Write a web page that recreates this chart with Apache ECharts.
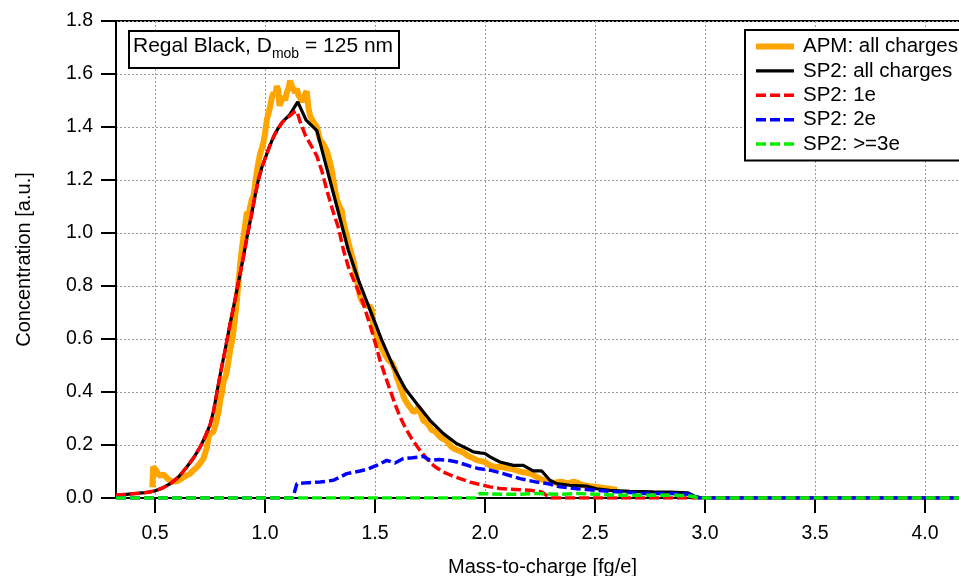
<!DOCTYPE html>
<html>
<head>
<meta charset="utf-8">
<script src="https://cdn.jsdelivr.net/npm/echarts@6/dist/echarts.min.js"></script>
<style>html,body{margin:0;padding:0;background:#fff}#c{width:959px;height:576px}</style>
</head>
<body>
<div id="c"></div>
<script>
const xTicks = [0.5, 1.0, 1.5, 2.0, 2.5, 3.0, 3.5, 4.0];
const legendNames = ['APM: all charges', 'SP2: all charges', 'SP2: 1e', 'SP2: 2e', 'SP2: >=3e'];

const apmX = [0.488,0.492,0.500,0.509,0.518,0.527,0.540,0.552,0.565,0.580,0.600,0.615,0.630,0.645,0.660,0.675,0.691,0.706,0.721,0.736,0.745,0.755,0.766,0.775,0.782,0.790,0.797,0.805,0.812,0.820,0.827,0.835,0.842,0.850,0.857,0.865,0.872,0.880,0.887,0.895,0.903,0.910,0.918,0.925,0.933,0.941,0.948,0.956,0.963,0.971,0.978,0.986,0.993,1.001,1.009,1.016,1.024,1.031,1.039,1.047,1.054,1.060,1.066,1.075,1.084,1.092,1.099,1.107,1.114,1.122,1.129,1.137,1.145,1.152,1.160,1.168,1.175,1.183,1.190,1.198,1.206,1.213,1.220,1.228,1.236,1.244,1.251,1.259,1.266,1.273,1.281,1.288,1.296,1.304,1.311,1.319,1.326,1.334,1.341,1.349,1.357,1.364,1.372,1.379,1.387,1.395,1.402,1.410,1.417,1.425,1.432,1.440,1.447,1.455,1.463,1.470,1.478,1.485,1.493,1.500,1.508,1.515,1.523,1.531,1.538,1.546,1.554,1.561,1.569,1.577,1.584,1.592,1.599,1.607,1.614,1.622,1.629,1.637,1.645,1.652,1.660,1.667,1.675,1.682,1.690,1.697,1.705,1.712,1.720,1.728,1.735,1.743,1.750,1.758,1.766,1.773,1.781,1.788,1.796,1.803,1.811,1.818,1.826,1.834,1.841,1.849,1.857,1.864,1.872,1.887,1.902,1.917,1.932,1.947,1.962,1.977,2.000,2.023,2.038,2.053,2.068,2.083,2.099,2.114,2.129,2.144,2.159,2.174,2.190,2.212,2.235,2.258,2.273,2.296,2.311,2.326,2.341,2.356,2.371,2.386,2.402,2.417,2.432,2.447,2.462,2.477,2.492,2.507,2.538,2.568,2.600];
const apmY = [0.040,0.118,0.110,0.100,0.085,0.080,0.088,0.078,0.068,0.062,0.063,0.070,0.078,0.085,0.092,0.105,0.117,0.132,0.150,0.190,0.235,0.245,0.250,0.275,0.300,0.330,0.370,0.400,0.440,0.455,0.480,0.520,0.560,0.590,0.630,0.690,0.740,0.820,0.880,0.940,0.990,1.030,1.080,1.070,1.100,1.130,1.140,1.190,1.230,1.270,1.300,1.320,1.340,1.380,1.430,1.450,1.480,1.510,1.530,1.520,1.555,1.540,1.480,1.500,1.515,1.500,1.530,1.545,1.575,1.555,1.550,1.530,1.545,1.520,1.510,1.495,1.500,1.525,1.535,1.470,1.440,1.430,1.420,1.410,1.400,1.370,1.350,1.345,1.335,1.330,1.310,1.290,1.265,1.235,1.200,1.160,1.130,1.110,1.095,1.085,1.040,1.015,0.990,0.965,0.940,0.915,0.895,0.860,0.830,0.790,0.760,0.745,0.735,0.728,0.725,0.718,0.722,0.712,0.650,0.625,0.610,0.595,0.578,0.565,0.555,0.540,0.530,0.520,0.515,0.510,0.505,0.480,0.455,0.440,0.420,0.405,0.385,0.370,0.360,0.350,0.342,0.335,0.325,0.318,0.330,0.345,0.342,0.310,0.292,0.288,0.284,0.280,0.268,0.256,0.254,0.252,0.248,0.238,0.230,0.224,0.222,0.220,0.216,0.205,0.198,0.192,0.188,0.184,0.180,0.177,0.172,0.162,0.155,0.150,0.143,0.140,0.136,0.123,0.119,0.117,0.118,0.116,0.113,0.110,0.108,0.104,0.100,0.097,0.095,0.091,0.079,0.070,0.066,0.060,0.057,0.059,0.061,0.060,0.056,0.057,0.062,0.059,0.052,0.048,0.046,0.044,0.043,0.042,0.038,0.035,0.030];

const allX = [0.323,0.360,0.400,0.441,0.470,0.501,0.535,0.570,0.608,0.645,0.676,0.706,0.730,0.751,0.767,0.782,0.800,0.819,0.842,0.862,0.882,0.902,0.921,0.940,0.955,0.970,0.985,1.001,1.020,1.039,1.058,1.077,1.095,1.114,1.149,1.187,1.236,1.311,1.379,1.425,1.478,1.531,1.584,1.637,1.690,1.750,1.811,1.872,1.917,1.947,1.977,2.000,2.023,2.068,2.129,2.174,2.219,2.258,2.295,2.326,2.386,2.462,2.507,2.568,2.659,2.764,2.840,2.923,2.961,3.000,4.200];
const allY = [0.010,0.013,0.016,0.019,0.022,0.027,0.038,0.054,0.080,0.117,0.152,0.193,0.235,0.277,0.330,0.400,0.480,0.558,0.659,0.740,0.825,0.910,0.995,1.074,1.140,1.200,1.245,1.282,1.325,1.363,1.392,1.416,1.432,1.448,1.495,1.426,1.386,1.150,0.935,0.822,0.709,0.596,0.495,0.413,0.356,0.293,0.243,0.205,0.187,0.174,0.170,0.168,0.155,0.136,0.123,0.123,0.102,0.102,0.067,0.054,0.048,0.045,0.035,0.029,0.025,0.023,0.022,0.019,0.003,0.000,0.000];

const e1X = [0.323,0.360,0.400,0.441,0.470,0.501,0.535,0.570,0.608,0.645,0.676,0.706,0.730,0.751,0.767,0.782,0.800,0.819,0.842,0.862,0.882,0.902,0.921,0.940,0.955,0.970,0.985,1.001,1.020,1.039,1.058,1.077,1.095,1.114,1.130,1.145,1.160,1.183,1.210,1.236,1.260,1.281,1.310,1.334,1.357,1.380,1.402,1.425,1.447,1.466,1.485,1.504,1.523,1.546,1.569,1.591,1.614,1.640,1.667,1.700,1.735,1.770,1.811,1.850,1.887,1.932,1.962,2.023,2.068,2.114,2.160,2.205,2.258,2.280,2.300,4.200];
const e1Y = [0.010,0.013,0.016,0.019,0.022,0.027,0.038,0.054,0.080,0.117,0.152,0.193,0.235,0.277,0.330,0.400,0.480,0.558,0.659,0.740,0.825,0.910,0.995,1.074,1.140,1.200,1.245,1.282,1.325,1.363,1.392,1.416,1.432,1.442,1.455,1.460,1.420,1.370,1.330,1.290,1.230,1.162,1.080,1.020,0.935,0.870,0.825,0.780,0.734,0.683,0.633,0.577,0.520,0.462,0.407,0.355,0.306,0.262,0.224,0.185,0.149,0.120,0.098,0.084,0.073,0.060,0.054,0.042,0.036,0.033,0.031,0.029,0.023,0.010,0.000,0.000];

const e2X = [0.323,1.127,1.145,1.200,1.251,1.311,1.341,1.372,1.432,1.470,1.508,1.554,1.591,1.629,1.670,1.705,1.720,1.750,1.790,1.830,1.872,1.932,1.970,2.023,2.083,2.159,2.235,2.288,2.341,2.417,2.507,2.613,2.719,2.840,2.931,2.976,4.200];
const e2Y = [0.000,0.000,0.054,0.058,0.060,0.067,0.079,0.092,0.102,0.110,0.123,0.142,0.132,0.149,0.152,0.155,0.157,0.142,0.145,0.143,0.136,0.120,0.111,0.105,0.092,0.073,0.060,0.054,0.042,0.035,0.029,0.023,0.017,0.017,0.014,0.000,0.000];

const e3X = [0.323,1.955,1.977,2.083,2.159,2.235,2.341,2.417,2.507,2.613,2.750,2.870,2.950,2.965,4.200];
const e3Y = [0.000,0.000,0.017,0.014,0.014,0.017,0.014,0.017,0.014,0.010,0.010,0.010,0.006,0.000,0.000];

const zip = (xs, ys) => xs.map((x, i) => [x, ys[i]]);
const FF = '"Liberation Sans", Arial, sans-serif';

const chart = echarts.init(document.getElementById('c'));
chart.setOption({
  animation: false,
  backgroundColor: '#fff',
  grid: { left: 116, top: 21, right: -10, bottom: 78, outerBoundsMode: 'none', containLabel: false, show: true, borderColor: '#000', borderWidth: 2, backgroundColor: 'transparent' },
  xAxis: {
    type: 'value', min: 0.323, max: 4.2,
    name: 'Mass-to-charge [fg/e]', nameLocation: 'middle', nameGap: 59,
    nameTextStyle: { fontSize: 20, color: '#000', fontFamily: FF },
    axisLine: { show: true, lineStyle: { color: '#000', width: 2 } },
    axisTick: { show: true, inside: false, length: 15, customValues: xTicks, lineStyle: { color: '#000', width: 2 } },
    axisLabel: { customValues: xTicks, margin: 26, fontSize: 19.5, color: '#000', fontFamily: FF, formatter: v => v.toFixed(1) },
    splitLine: { show: true, lineStyle: { color: '#9a9a9a', type: [2, 2], width: 1 } }
  },
  yAxis: {
    type: 'value', min: 0, max: 1.8, interval: 0.2,
    name: 'Concentration [a.u.]', nameLocation: 'middle', nameGap: 82, nameRotate: 90,
    nameTextStyle: { fontSize: 20, color: '#000', fontFamily: FF },
    axisLine: { show: true, lineStyle: { color: '#000', width: 2 } },
    axisTick: { show: true, inside: false, length: 15, lineStyle: { color: '#000', width: 2 } },
    axisLabel: { margin: 23, fontSize: 19.5, color: '#000', fontFamily: FF, formatter: v => v.toFixed(1) },
    splitLine: { show: true, lineStyle: { color: '#9a9a9a', type: [2, 2], width: 1 } }
  },
  legend: {
    orient: 'vertical', left: 745, top: 30,
    padding: [6, 8, 6, 8], itemGap: 3.4, itemWidth: 38, itemHeight: 14,
    backgroundColor: '#fff', borderColor: '#000', borderWidth: 2, borderRadius: 0,
    textStyle: { fontSize: 20.5, color: '#000', fontFamily: FF, lineHeight: 20, padding: [0, 0, 0, 4] },
    lineStyle: { width: 'inherit' },
    itemStyle: { opacity: 0, color: 'transparent', borderWidth: 0 },
    data: legendNames
  },
  graphic: [
    { type: 'rect', left: 128, top: 30, z: 100, shape: { width: 270, height: 37 }, style: { fill: '#fff', stroke: '#000', lineWidth: 2 } },
    { type: 'text', z: 101, x: 133, y: 46, style: {
        text: '{a|Regal Black, D}{s|mob}{a| = 125 nm}',
        verticalAlign: 'middle', align: 'left',
        rich: {
          a: { fontSize: 21, fontFamily: FF, fill: '#000', lineHeight: 30, verticalAlign: 'middle' },
          s: { fontSize: 14, fontFamily: FF, fill: '#000', lineHeight: 14, verticalAlign: 'bottom' }
        }
    } }
  ],
  series: [
    { name: legendNames[0], type: 'line', data: zip(apmX, apmY), showSymbol: false, symbol: 'none', z: 2, lineStyle: { color: '#FFA500', width: 6 }, itemStyle: { color: '#FFA500' } },
    { name: legendNames[1], type: 'line', data: zip(allX, allY), showSymbol: false, symbol: 'none', z: 3, lineStyle: { color: '#000', width: 3.2 }, itemStyle: { color: '#000' } },
    { name: legendNames[2], type: 'line', data: zip(e1X, e1Y), showSymbol: false, symbol: 'none', z: 4, lineStyle: { color: '#ff0000', width: 3.5, type: [10, 4] }, itemStyle: { color: '#ff0000' } },
    { name: legendNames[3], type: 'line', data: zip(e2X, e2Y), showSymbol: false, symbol: 'none', z: 5, lineStyle: { color: '#0000ff', width: 3.5, type: [10, 4] }, itemStyle: { color: '#0000ff' } },
    { name: legendNames[4], type: 'line', data: zip(e3X, e3Y), showSymbol: false, symbol: 'none', z: 6, lineStyle: { color: '#00ee00', width: 3.5, type: [10, 4] }, itemStyle: { color: '#00ee00' } }
  ]
});
</script>
</body>
</html>
